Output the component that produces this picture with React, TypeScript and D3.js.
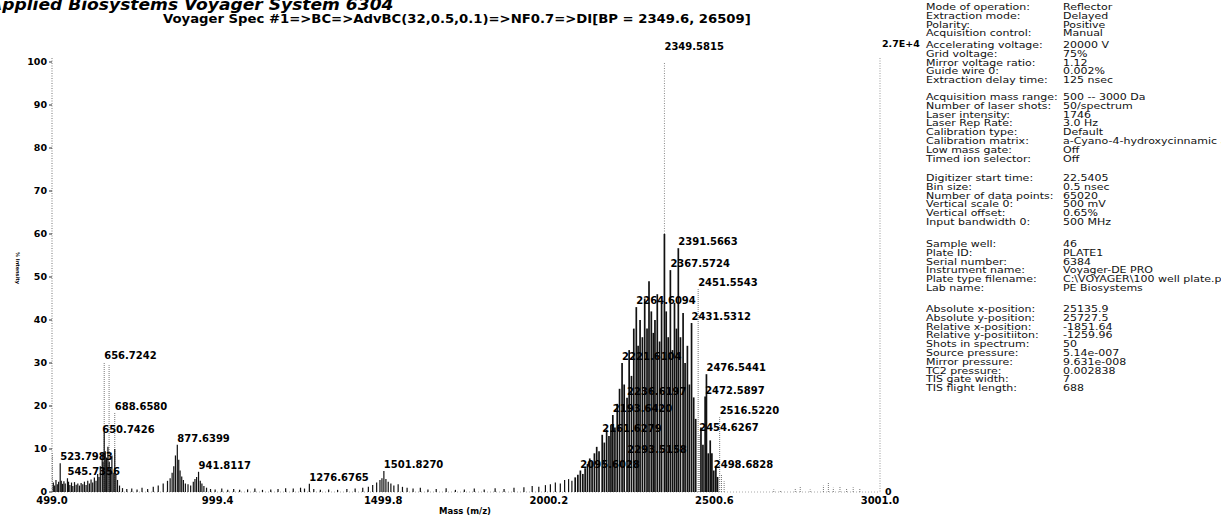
import React from 'react';
import * as d3 from 'd3';

// spectrum sticks: m/z and % intensity
const stickMass = [
  503, 507, 511, 515, 519, 523.7983, 527, 531, 535, 539, 545.7356, 549, 553, 558, 562, 567, 572, 577, 582, 587, 592, 597,
  602, 607, 612, 617, 622, 627, 632, 637, 641, 645, 650.7426, 653, 656.7242, 660, 664, 668, 672, 676, 680, 684, 688.658, 692,
  697, 703, 712, 725, 740, 756, 771, 788, 805, 820, 835, 848, 856, 862, 867, 872, 877.6399, 882, 886, 891, 896, 902, 910, 918,
  926, 931, 936, 941.8117, 947, 952, 958, 966, 978, 992,
  1012, 1030, 1048, 1066, 1090, 1112, 1135, 1160, 1182, 1205, 1228, 1250, 1262, 1276.6765, 1290, 1310, 1335, 1362, 1390, 1415,
  1438, 1455, 1468, 1480, 1490, 1496, 1501.827, 1508, 1515, 1523, 1532, 1545, 1558, 1572, 1590, 1612, 1635, 1660, 1690, 1718,
  1745, 1775, 1805, 1838, 1865, 1895, 1925, 1950, 1970, 1990, 2005, 2020, 2035, 2048, 2060, 2070,
  2080, 2088, 2095.6028, 2103, 2110, 2117, 2124, 2131, 2138, 2145, 2152, 2161.6279, 2168, 2175, 2182, 2188, 2193.642, 2200,
  2207, 2214, 2221.6104, 2228, 2236.6197, 2243, 2250, 2257, 2264.6094, 2270, 2276, 2283, 2290, 2297, 2303, 2310, 2316, 2321,
  2328, 2335, 2341, 2349.5815, 2355, 2361, 2367.5724, 2374, 2380, 2386, 2391.5663, 2398, 2406, 2412, 2419, 2425, 2431.5312,
  2438, 2444, 2460, 2466, 2472.5897, 2476.5441, 2482, 2488, 2493, 2498.6828, 2505, 2510,
];
const stickInt = [
  2.2, 1.5, 2.8, 1.8, 2.4, 6.7, 2.6, 1.9, 2.5, 2.0, 3.2, 2.4, 1.6, 2.2, 1.4, 2.3, 1.7, 2.0, 1.5, 2.1, 1.8, 2.4,
  1.6, 2.6, 2.0, 2.9, 2.2, 3.4, 2.6, 4.2, 3.5, 6.0, 9.0, 7.0, 14.0, 9.5, 8.0, 10.5, 7.0, 5.5, 8.5, 4.5, 10.0, 4.0,
  2.8, 1.5, 0.9, 0.7, 0.8, 0.6, 1.0, 0.7, 1.2, 1.5, 2.0, 2.6, 3.2, 4.5, 6.0, 8.5, 11.0, 7.5, 5.0, 3.6, 2.8, 2.0, 1.8, 1.5,
  2.4, 3.0, 3.5, 4.7, 2.6, 2.0, 1.4, 1.0, 0.7, 0.6,
  0.8, 0.5, 0.7, 0.5, 0.6, 0.8, 0.5, 0.6, 0.7, 0.9, 0.8, 1.0, 0.8, 1.9, 0.7, 0.5, 0.6, 0.5, 0.7, 0.8,
  1.0, 1.2, 1.6, 2.2, 2.8, 3.2, 4.9, 3.0, 2.4, 2.0, 1.5, 1.8, 1.2, 1.0, 0.8, 1.0, 0.6, 0.7, 0.9, 0.5,
  0.6, 0.8, 0.6, 0.9, 0.7, 1.0, 1.1, 1.4, 1.2, 1.6, 1.8, 2.2, 2.0, 2.8, 3.0, 2.6,
  3.4, 4.0, 5.0, 4.2, 5.5, 6.5, 7.8, 7.0, 9.0, 10.5, 9.5, 13.3, 11.5, 14.5, 13.0, 15.5, 17.9, 15.0,
  20.5, 24.0, 30.0, 25.0, 21.9, 33.0, 27.0, 38.0, 43.0, 34.0, 40.0, 36.0, 45.0, 38.0, 49.0, 42.0, 37.0, 40.0,
  46.0, 35.0, 44.0, 100, 42.0, 36.0, 51.6, 33.0, 44.0, 38.0, 56.7, 36.0, 41.6, 30.0, 34.0, 25.0, 39.3,
  22.0, 17.0, 15.0, 11.0, 22.2, 27.4, 9.0, 12.0, 9.0, 5.0, 6.0, 3.5,
];

// thin dotted sticks (weaker trace in the scan)
const faintMass = [500, 656.7242, 671.5, 688.658, 2451.5543, 2454.6267, 2516.522, 2522, 2530,
  2680, 2700, 2745, 2760, 2790, 2830, 2845, 2860, 2880, 2900, 2920, 2940];
const faintInt = [9.0, 30.2, 29.5, 18.4, 47.2, 13.5, 17.4, 4.0, 2.5,
  0.6, 0.4, 0.8, 1.2, 0.6, 1.5, 2.2, 1.0, 1.4, 0.8, 1.1, 0.7];

// annotated peaks
const labelMass = [523.7983, 545.7356, 650.7426, 656.7242, 688.658, 877.6399, 941.8117, 1276.6765, 1501.827,
  2095.6028, 2161.6279, 2193.642, 2221.6104, 2236.6197, 2237.5158, 2264.6094, 2349.5815, 2367.5724, 2391.5663,
  2431.5312, 2451.5543, 2454.6267, 2472.5897, 2476.5441, 2498.6828, 2516.522];
const labelInt = [6.7, 3.2, 13.0, 30.2, 18.4, 11.0, 4.7, 1.9, 4.9,
  5.0, 13.3, 17.9, 30.0, 21.9, 8.4, 43.0, 102, 51.6, 56.7,
  39.3, 47.2, 13.5, 22.2, 27.4, 5.0, 17.4];
const labelText = ['523.7983', '545.7356', '650.7426', '656.7242', '688.6580', '877.6399', '941.8117', '1276.6765', '1501.8270',
  '2095.6028', '2161.6279', '2193.6420', '2221.6104', '2236.6197', '2293.5158', '2264.6094', '2349.5815', '2367.5724', '2391.5663',
  '2431.5312', '2451.5543', '2454.6267', '2472.5897', '2476.5441', '2498.6828', '2516.5220'];

const xTicks = ['499.0', '999.4', '1499.8', '2000.2', '2500.6', '3001.0'];
const yTicks = [0, 10, 20, 30, 40, 50, 60, 70, 80, 90, 100];

// acquisition settings block on the right
const infoGroups: string[][][] = [
  [['Mode of operation:', 'Reflector'], ['Extraction mode:', 'Delayed'], ['Polarity:', 'Positive'], ['Acquisition control:', 'Manual']],
  [['Accelerating voltage:', '20000 V'], ['Grid voltage:', '75%'], ['Mirror voltage ratio:', '1.12'], ['Guide wire 0:', '0.002%'],
    ['Extraction delay time:', '125 nsec']],
  [['Acquisition mass range:', '500 -- 3000 Da'], ['Number of laser shots:', '50/spectrum'], ['Laser intensity:', '1746'],
    ['Laser Rep Rate:', '3.0 Hz'], ['Calibration type:', 'Default'], ['Calibration matrix:', 'a-Cyano-4-hydroxycinnamic acid'],
    ['Low mass gate:', 'Off'], ['Timed ion selector:', 'Off']],
  [['Digitizer start time:', '22.5405'], ['Bin size:', '0.5 nsec'], ['Number of data points:', '65020'],
    ['Vertical scale 0:', '500 mV'], ['Vertical offset:', '0.65%'], ['Input bandwidth 0:', '500 MHz']],
  [['Sample well:', '46'], ['Plate ID:', 'PLATE1'], ['Serial number:', '6384'], ['Instrument name:', 'Voyager-DE PRO'],
    ['Plate type filename:', 'C:\\VOYAGER\\100 well plate.plt'], ['Lab name:', 'PE Biosystems']],
  [['Absolute x-position:', '25135.9'], ['Absolute y-position:', '25727.5'], ['Relative x-position:', '-1851.64'],
    ['Relative y-positiiton:', '-1259.96'], ['Shots in spectrum:', '50'], ['Source pressure:', '5.14e-007'],
    ['Mirror pressure:', '9.631e-008'], ['TC2 pressure:', '0.002838'], ['TIS gate width:', '7'], ['TIS flight length:', '688']],
];
const groupGaps = [0, 11.6, 16.8, 19.4, 22, 21];

const BOLD = 'DejaVu Sans, sans-serif';

export default function App() {
  const width = 1221, height = 516;
  const x = d3.scaleLinear().domain([499.0, 3001.0]).range([52, 880]);
  const y = d3.scaleLinear().domain([0, 100]).range([492, 62]);
  const solidCap = 60;
  const lineH = 8.8;
  const sx = 1.25;

  // panel rows
  const rows: { label: string; value: string; yy: number }[] = [];
  let yy = 7;
  infoGroups.forEach((g, gi) => {
    if (gi > 0) yy += groupGaps[gi];
    g.forEach((r, ri) => {
      rows.push({ label: r[0], value: r[1], yy });
      if (ri < g.length - 1) yy += lineH;
    });
  });

  return (
    <svg width={width} height={height} style={{ position: 'absolute', left: 0, top: 0, background: '#fff' }}>
      <rect width={width} height={height} fill="#fff" />
      {/* titles */}
      <text transform="translate(-11,10) scale(1.07,1)" fontFamily={BOLD} fontWeight="bold" fontStyle="italic" fontSize={16}>
        Applied Biosystems Voyager System 6304
      </text>
      <text transform="translate(163,23) scale(1.15,1)" fontFamily={BOLD} fontWeight="bold" fontSize={11.5}>
        Voyager Spec #1=&gt;BC=&gt;AdvBC(32,0.5,0.1)=&gt;NF0.7=&gt;DI[BP = 2349.6, 26509]
      </text>

      {/* frame */}
      <line x1={x(499)} x2={x(499)} y1={y(100) - 4} y2={y(0)} stroke="#777" strokeWidth={1} strokeDasharray="1,1.5" />
      <line x1={x(3001)} x2={x(3001)} y1={y(100) - 4} y2={y(0)} stroke="#999" strokeWidth={1} strokeDasharray="1,1.5" />
      <line x1={x(499)} x2={x(3001)} y1={y(0)} y2={y(0)} stroke="#aaa" strokeWidth={1} strokeDasharray="1,2" />

      {yTicks.map((t) => (
        <g key={t}>
          <line x1={x(499) - 3} x2={x(499)} y1={y(t)} y2={y(t)} stroke="#333" />
          <text x={47} y={y(t)} dy="0.35em" textAnchor="end" fontFamily={BOLD} fontWeight="bold" fontSize={9.5}>{t}</text>
        </g>
      ))}
      {xTicks.map((t) => (
        <text key={t} x={x(+t)} y={504} textAnchor="middle" fontFamily={BOLD} fontWeight="bold" fontSize={10}>{t}</text>
      ))}
      <text x={885} y={y(0)} dy="0.35em" fontFamily={BOLD} fontWeight="bold" fontSize={9.5}>0</text>
      <text x={882} y={47} fontFamily={BOLD} fontWeight="bold" fontSize={9.5}>2.7E+4</text>
      <text x={465} y={514} textAnchor="middle" fontFamily={BOLD} fontWeight="bold" fontSize={8.5}>Mass (m/z)</text>
      <text transform="translate(16,268) rotate(90)" textAnchor="middle" fontFamily={BOLD} fontWeight="bold" fontSize={5}>% Intensity</text>

      {/* spectrum */}
      {faintMass.map((m, i) => (
        <line key={'f' + i} x1={x(m)} x2={x(m)} y1={y(0)} y2={y(faintInt[i])} stroke="#777" strokeWidth={1} strokeDasharray="1,1" />
      ))}
      {stickMass.map((m, i) => {
        const v = stickInt[i];
        return (
          <g key={'s' + i}>
            <line x1={x(m)} x2={x(m)} y1={y(0)} y2={y(Math.min(v, solidCap))} stroke="#111" strokeWidth={m > 2075 ? 1.7 : 1.2} />
            {v > solidCap && (
              <line x1={x(m)} x2={x(m)} y1={y(solidCap)} y2={y(v)} stroke="#888" strokeWidth={1} strokeDasharray="1,1.5" />
            )}
          </g>
        );
      })}
      {labelMass.map((m, i) => (
        <text key={'l' + i} x={x(m)} y={y(labelInt[i]) - 3} fontFamily={BOLD} fontWeight="bold" fontSize={10}>{labelText[i]}</text>
      ))}

      {/* settings panel */}
      <g transform={`translate(926,0) scale(${sx},1)`} fontFamily={BOLD} fontSize={8.8} fill="#111">
        {rows.map((r, i) => (
          <g key={'r' + i}>
            <text x={0} y={r.yy} dy="0.35em">{r.label}</text>
            <text x={(1063 - 926) / sx} y={r.yy} dy="0.35em">{r.value}</text>
          </g>
        ))}
      </g>
    </svg>
  );
}
